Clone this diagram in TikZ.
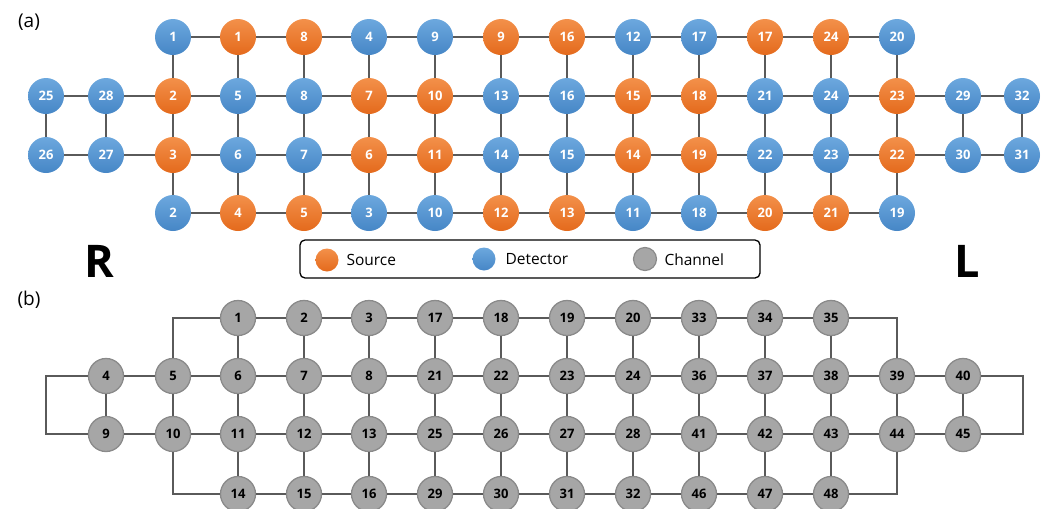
\documentclass[tikz,border=0pt]{standalone}
\usepackage{fontspec}
\setmainfont{Open Sans}
\usetikzlibrary{calc}
\definecolor{orT}{HTML}{F3904A}
\definecolor{orB}{HTML}{E46A1C}
\definecolor{blT}{HTML}{6CA8DE}
\definecolor{blB}{HTML}{4686C6}
\definecolor{gyF}{HTML}{A6A6A6}
\definecolor{gyD}{HTML}{8A8A8A}
\definecolor{lnC}{HTML}{5A5A5A}
\tikzset{
  dot/.style={circle, minimum size=36pt, inner sep=0pt, font=\fontsize{13}{13}\selectfont\bfseries},
  O/.style={dot, top color=orT, bottom color=orB, text=white},
  B/.style={dot, top color=blT, bottom color=blB, text=white},
  G/.style={dot, fill=gyF, draw=gyD, line width=1.3pt, text=black, minimum size=35pt},
  link/.style={draw=lnC, line width=1.6pt},
  legdot/.style={circle, minimum size=23pt, inner sep=0pt},
  legtxt/.style={anchor=west, font=\fontsize{15.5}{15.5}\selectfont},
  side/.style={font=\fontsize{45}{45}\selectfont\bfseries},
  tag/.style={font=\fontsize{19}{19}\selectfont}
}
\def\colx{{0,46,106,173,238,304,369,435,501,567,633,699,765,831,897,963,1022}}
\begin{document}
\begin{tikzpicture}[x=1pt,y=-1pt]
\useasboundingbox (0,0) rectangle (1045,509);
% ---------- (a) ----------
\node[tag] (taga) at (29,22) {(a)};
\foreach \c/\t/\n in {3/B/1,4/O/1,5/O/8,6/B/4,7/B/9,8/O/9,9/O/16,10/B/12,11/B/17,12/O/17,13/O/24,14/B/20}{
  \pgfmathsetmacro\xx{\colx[\c]}
  \node[\t] (a-1-\c) at (\xx,37) {\n};}
\foreach \c/\t/\n in {1/B/25,2/B/28,3/O/2,4/B/5,5/B/8,6/O/7,7/O/10,8/B/13,9/B/16,10/O/15,11/O/18,12/B/21,13/B/24,14/O/23,15/B/29,16/B/32}{
  \pgfmathsetmacro\xx{\colx[\c]}
  \node[\t] (a-2-\c) at (\xx,96) {\n};}
\foreach \c/\t/\n in {1/B/26,2/B/27,3/O/3,4/B/6,5/B/7,6/O/6,7/O/11,8/B/14,9/B/15,10/O/14,11/O/19,12/B/22,13/B/23,14/O/22,15/B/30,16/B/31}{
  \pgfmathsetmacro\xx{\colx[\c]}
  \node[\t] (a-3-\c) at (\xx,155) {\n};}
\foreach \c/\t/\n in {3/B/2,4/O/4,5/O/5,6/B/3,7/B/10,8/O/12,9/O/13,10/B/11,11/B/18,12/O/20,13/O/21,14/B/19}{
  \pgfmathsetmacro\xx{\colx[\c]}
  \node[\t] (a-4-\c) at (\xx,213) {\n};}
% horizontal links (a)
\foreach \c [evaluate=\c as \d using int(\c+1)] in {3,...,13}{
  \path[link] (a-1-\c) -- (a-1-\d);
  \path[link] (a-4-\c) -- (a-4-\d);}
\foreach \c [evaluate=\c as \d using int(\c+1)] in {1,...,15}{
  \path[link] (a-2-\c) -- (a-2-\d);
  \path[link] (a-3-\c) -- (a-3-\d);}
% vertical links (a)
\foreach \c in {3,...,14}{
  \path[link] (a-1-\c) -- (a-2-\c);
  \path[link] (a-3-\c) -- (a-4-\c);}
\foreach \c in {1,...,16}{
  \path[link] (a-2-\c) -- (a-3-\c);}
% ---------- legend ----------
\node[draw=black, line width=1.3pt, rounded corners=5pt, minimum width=460pt, minimum height=38pt, inner sep=0pt] (legend) at (530,259) {};
\node[legdot, top color=orT, bottom color=orB] (lso) at (327,260) {};
\node[legtxt] (lsot) at (343,260) {Source};
\node[legdot, top color=blT, bottom color=blB] (lde) at (484,259) {};
\node[legtxt] (ldet) at (502,259) {Detector};
\node[legdot, fill=gyF, draw=gyD, line width=1.2pt] (lch) at (645,259) {};
\node[legtxt] (lcht) at (661,260) {Channel};
\node[side] (R) at (99,261) {R};
\node[side] (L) at (967,261) {L};
% ---------- (b) ----------
\node[tag] (tagb) at (29,300) {(b)};
\foreach \c/\n in {4/1,5/2,6/3,7/17,8/18,9/19,10/20,11/33,12/34,13/35}{
  \pgfmathsetmacro\xx{\colx[\c]}
  \node[G] (b-1-\c) at (\xx,318) {\n};}
\foreach \c/\n in {2/4,3/5,4/6,5/7,6/8,7/21,8/22,9/23,10/24,11/36,12/37,13/38,14/39,15/40}{
  \pgfmathsetmacro\xx{\colx[\c]}
  \node[G] (b-2-\c) at (\xx,376) {\n};}
\foreach \c/\n in {2/9,3/10,4/11,5/12,6/13,7/25,8/26,9/27,10/28,11/41,12/42,13/43,14/44,15/45}{
  \pgfmathsetmacro\xx{\colx[\c]}
  \node[G] (b-3-\c) at (\xx,434) {\n};}
\foreach \c/\n in {4/14,5/15,6/16,7/29,8/30,9/31,10/32,11/46,12/47,13/48}{
  \pgfmathsetmacro\xx{\colx[\c]}
  \node[G] (b-4-\c) at (\xx,494) {\n};}
\foreach \c [evaluate=\c as \d using int(\c+1)] in {4,...,12}{
  \path[link] (b-1-\c) -- (b-1-\d);
  \path[link] (b-4-\c) -- (b-4-\d);}
\foreach \c [evaluate=\c as \d using int(\c+1)] in {2,...,14}{
  \path[link] (b-2-\c) -- (b-2-\d);
  \path[link] (b-3-\c) -- (b-3-\d);}
\foreach \c in {4,...,13}{
  \path[link] (b-1-\c) -- (b-2-\c);
  \path[link] (b-3-\c) -- (b-4-\c);}
\foreach \c in {2,...,15}{
  \path[link] (b-2-\c) -- (b-3-\c);}
% elbow links
\coordinate (e1) at (46,376);
\coordinate (e2) at (46,434);
\coordinate (e3) at (1023,376);
\coordinate (e4) at (1023,434);
\path[link] (b-2-3) -- (b-2-3 |- b-1-4) -- (b-1-4);
\path[link] (b-3-3) -- (b-3-3 |- b-4-4) -- (b-4-4);
\path[link] (b-1-13) -- (b-2-14 |- b-1-13) -- (b-2-14);
\path[link] (b-4-13) -- (b-3-14 |- b-4-13) -- (b-3-14);
\path[link] (b-2-2) -- (e1) -- (e2) -- (b-3-2);
\path[link] (b-2-15) -- (e3) -- (e4) -- (b-3-15);
\end{tikzpicture}
\end{document}
